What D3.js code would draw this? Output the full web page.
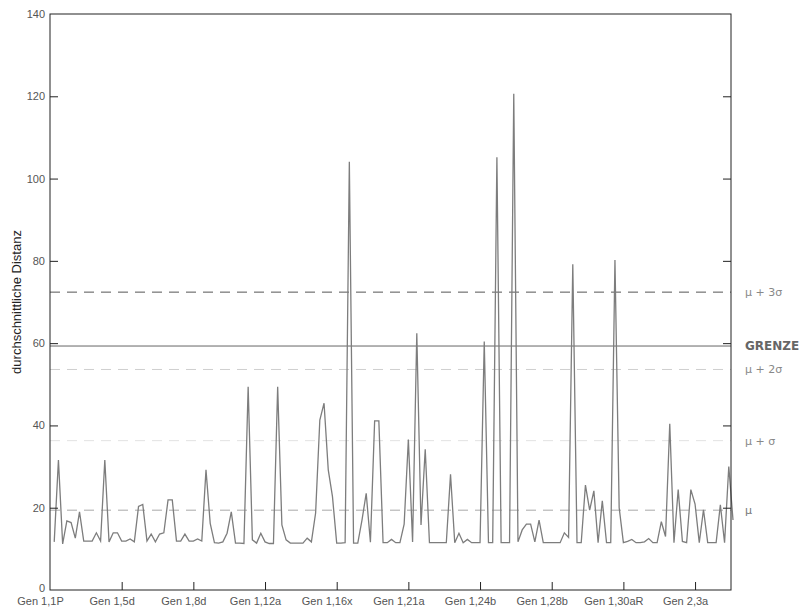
<!DOCTYPE html>
<html>
<head>
<meta charset="utf-8">
<script src="https://cdn.jsdelivr.net/npm/d3@7"></script>
<style>
  body { margin: 0; background: #fff; }
  svg text { font-family: "Liberation Sans", Arial, sans-serif; }
</style>
</head>
<body>
<div id="chart"></div>
<script>
// Werte pro Gen-Position (Index 1..162)
const distanz = [
  11.7, 31.6, 11.2, 16.8, 16.4, 12.6, 19.0, 11.9, 11.9, 11.9,
  13.9, 11.9, 31.6, 11.7, 13.9, 13.9, 11.9, 11.9, 12.4, 11.7,
  20.3, 20.8, 11.9, 13.6, 11.7, 13.6, 13.9, 21.9, 21.9, 11.9,
  11.9, 13.6, 11.9, 11.9, 12.4, 11.9, 29.2, 16.2, 11.5, 11.4,
  11.7, 13.8, 19.0, 11.4, 11.4, 11.3, 49.4, 12.2, 11.4, 13.8,
  11.7, 11.3, 11.3, 49.4, 15.8, 12.2, 11.4, 11.4, 11.4, 11.4,
  12.6, 11.7, 18.7, 41.3, 45.4, 29.2, 22.7, 11.4, 11.4, 11.5,
  104.1, 11.4, 11.4, 17.0, 23.5, 11.6, 41.1, 41.1, 11.5, 11.5,
  12.3, 11.5, 11.5, 16.0, 36.6, 11.7, 62.4, 15.8, 34.2, 11.5,
  11.5, 11.5, 11.5, 11.5, 28.1, 11.5, 13.8, 11.5, 12.3, 11.5,
  11.5, 11.5, 60.4, 11.5, 11.5, 105.2, 11.5, 11.5, 11.5, 120.6,
  11.7, 14.6, 16.0, 16.0, 11.7, 17.0, 11.5, 11.5, 11.5, 11.5,
  11.5, 13.9, 12.8, 79.2, 11.5, 11.5, 25.5, 19.4, 24.1, 11.5,
  21.7, 11.5, 11.5, 80.2, 20.0, 11.5, 11.8, 12.3, 11.5, 11.5,
  11.7, 12.5, 11.5, 11.5, 16.6, 13.0, 40.4, 11.5, 24.4, 11.8,
  11.5, 24.4, 20.9, 11.5, 19.5, 11.5, 11.5, 11.5, 20.7, 11.5,
  30.0, 17.0
];

// Achsenbeschriftung unten
const genLabels = ["Gen 1,1P", "Gen 1,5d", "Gen 1,8d", "Gen 1,12a", "Gen 1,16x",
                   "Gen 1,21a", "Gen 1,24b", "Gen 1,28b", "Gen 1,30aR", "Gen 2,3a"];
const genIndex = [0, 17, 34, 51, 68, 85, 102, 119, 136, 153];

const yTicks = [0, 20, 40, 60, 80, 100, 120, 140];

// Referenzlinien
const refNames  = ["μ", "μ + σ", "μ + 2σ", "GRENZE", "μ + 3σ"];
const refValues = [19.4, 36.3, 53.6, 59.3, 72.4];

const width = 803, height = 612;
const plotL = 50, plotR = 731, plotT = 14, plotB = 590;

const svg = d3.select('#chart')
  .append('svg')
  .attr('width', width)
  .attr('height', height);

const x = d3.scaleLinear().domain([0, 162]).range([plotL, 733]);
const y = d3.scaleLinear().domain([0, 140]).range([plotB, plotT]);

// Referenzlinien zeichnen
const refStyle = {
  "μ":       { stroke: '#a8a8a8', dash: '10,7', color: '#777', weight: 'normal' },
  "μ + σ":   { stroke: '#e2e2e2', dash: '10,7', color: '#888', weight: 'normal' },
  "μ + 2σ":  { stroke: '#cfcfcf', dash: '10,7', color: '#888', weight: 'normal' },
  "GRENZE":  { stroke: '#666',    dash: null,   color: '#666', weight: 'bold' },
  "μ + 3σ":  { stroke: '#555',    dash: '10,7', color: '#888', weight: 'normal' }
};

refNames.forEach((name, i) => {
  const st = refStyle[name];
  svg.append('line')
    .attr('x1', plotL).attr('x2', plotR)
    .attr('y1', y(refValues[i])).attr('y2', y(refValues[i]))
    .attr('stroke', st.stroke)
    .attr('stroke-width', 1)
    .attr('stroke-dasharray', st.dash);
  svg.append('text')
    .attr('x', 745)
    .attr('y', y(refValues[i]))
    .attr('dy', '0.35em')
    .attr('fill', st.color)
    .style('font-family', '"DejaVu Sans", sans-serif')
    .style('font-size', name === 'GRENZE' ? '12px' : '11px')
    .style('font-weight', st.weight)
    .text(name);
});

// Datenlinie
const line = d3.line()
  .x((d, i) => x(i + 1))
  .y(d => y(d));

svg.append('path')
  .datum(distanz)
  .attr('fill', 'none')
  .attr('stroke', '#7d7d7d')
  .attr('stroke-width', 1.3)
  .attr('stroke-linejoin', 'miter')
  .attr('d', line);

// Rahmen
svg.append('rect')
  .attr('x', plotL).attr('y', plotT)
  .attr('width', plotR - plotL).attr('height', plotB - plotT)
  .attr('fill', 'none')
  .attr('stroke', '#222')
  .attr('stroke-width', 1);

// Y-Achse links
const yAxis = svg.append('g')
  .attr('transform', `translate(${plotL},0)`)
  .call(d3.axisLeft(y).tickValues(yTicks).tickSizeInner(-8).tickSizeOuter(0).tickPadding(5));
yAxis.select('.domain').remove();
yAxis.selectAll('line').attr('stroke', '#222');
yAxis.selectAll('text')
  .attr('fill', '#555')
  .style('font-size', '11px')
  .style('font-family', '"Liberation Sans", Arial, sans-serif');
yAxis.selectAll('.tick').filter(d => d === 0 || d === 140).select('line').remove();
yAxis.selectAll('.tick').filter(d => d === 0).select('text').attr('dy', '0.1em');

// Y-Ticks rechts (nach innen)
const yAxisR = svg.append('g')
  .attr('transform', `translate(${plotR},0)`)
  .call(d3.axisRight(y).tickValues(yTicks.filter(d => d > 0 && d < 140)).tickSizeInner(-8).tickSizeOuter(0));
yAxisR.select('.domain').remove();
yAxisR.selectAll('text').remove();
yAxisR.selectAll('line').attr('stroke', '#222');

// X-Achse unten
const xAxis = svg.append('g')
  .attr('transform', `translate(0,${plotB})`)
  .call(d3.axisBottom(x).tickValues(genIndex)
    .tickFormat((d, i) => genLabels[i])
    .tickSizeInner(-8).tickSizeOuter(0).tickPadding(7));
xAxis.select('.domain').remove();
xAxis.selectAll('line').attr('stroke', '#222');
xAxis.selectAll('.tick').filter(d => d === 0).select('line').remove();
xAxis.selectAll('text')
  .attr('dx', -10)
  .attr('fill', '#555')
  .style('font-size', '11px')
  .style('font-family', '"Liberation Sans", Arial, sans-serif');

// Y-Achsentitel
svg.append('text')
  .attr('transform', `translate(21,${(plotT + plotB) / 2}) rotate(-90)`)
  .attr('text-anchor', 'middle')
  .attr('fill', '#222')
  .style('font-size', '13px')
  .text('durchschnittliche Distanz');
</script>
</body>
</html>
